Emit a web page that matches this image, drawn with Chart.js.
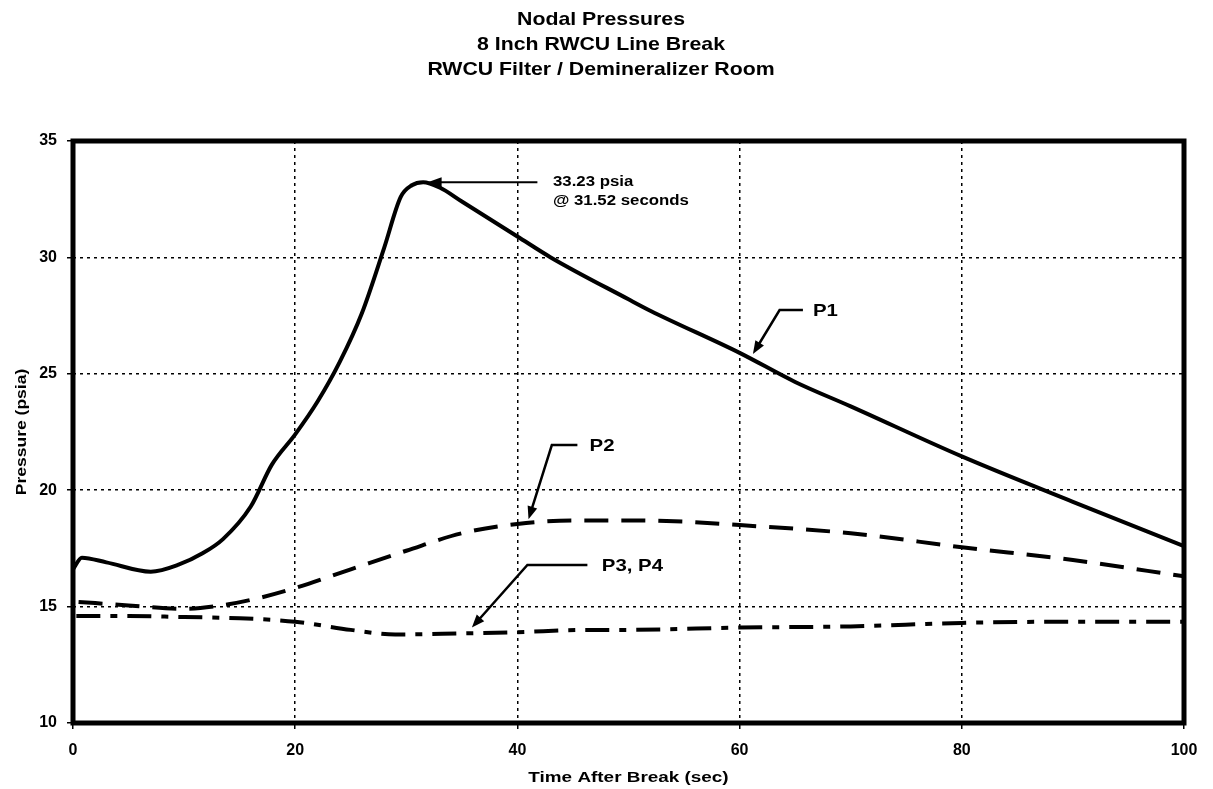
<!DOCTYPE html>
<html>
<head>
<meta charset="utf-8">
<title>Nodal Pressures</title>
<script src="https://cdn.jsdelivr.net/npm/chart.js@4.4.1/dist/chart.umd.min.js"></script>
<style>
  html, body { margin: 0; padding: 0; background: #fff; }
  #wrap { width: 1213px; height: 789px; }
</style>
</head>
<body>
<div id="wrap"><canvas id="pressureChart" width="1213" height="789"></canvas></div>
<script>
// Data (time in seconds, pressure in psia)
const titleLines = ['Nodal Pressures', '8 Inch RWCU Line Break', 'RWCU Filter / Demineralizer Room'];
const xTitle = 'Time After Break (sec)';
const yTitle = 'Pressure (psia)';

const timeP1 = [0, 0.8, 3, 7, 9.5, 11.7, 13.5, 16, 17.9, 20, 22, 24, 26, 28, 29.5, 30.5, 31.52, 33, 35, 40, 43, 50, 52, 60, 65, 70, 80, 90, 100];
const p1     = [16.6, 17.1, 16.9, 16.5, 16.8, 17.3, 17.9, 19.3, 21.1, 22.4, 23.8, 25.5, 27.6, 30.4, 32.6, 33.1, 33.23, 33.0, 32.4, 30.9, 30.0, 28.2, 27.7, 25.9, 24.65, 23.6, 21.45, 19.5, 17.6];

const timeP2 = [0.5, 5, 10, 14, 17, 20, 25, 30, 35, 40, 45, 50, 55, 60, 70, 80, 90, 100];
const p2     = [15.2, 15.05, 14.9, 15.1, 15.4, 15.8, 16.6, 17.4, 18.15, 18.55, 18.7, 18.7, 18.65, 18.5, 18.15, 17.55, 17.0, 16.3];

const timeP34 = [0.3, 5, 10, 15, 20, 25, 29, 35, 40, 46, 50, 60, 70, 80, 90, 100];
const p34     = [14.6, 14.6, 14.55, 14.5, 14.35, 14.0, 13.8, 13.85, 13.9, 14.0, 14.0, 14.1, 14.15, 14.3, 14.35, 14.35];

const peakTime = 31.52;
const peakValue = 33.23;

const xTicks = [0, 20, 40, 60, 80, 100];
const yTicks = [10, 15, 20, 25, 30, 35];

const FONT = '"Liberation Sans", Arial, sans-serif';

function pts(xs, ys) {
  return xs.map((x, i) => ({ x: x, y: ys[i] }));
}

function drawText(ctx, str, x, y, size, align, sx, rot) {
  ctx.save();
  ctx.translate(x, y);
  if (rot) ctx.rotate(rot);
  ctx.scale(sx, 1);
  ctx.font = 'bold ' + size + 'px ' + FONT;
  ctx.fillStyle = '#000';
  ctx.textAlign = align;
  ctx.textBaseline = 'middle';
  ctx.fillText(str, 0, 0);
  ctx.restore();
}

function arrowHead(ctx, fx, fy, tx, ty, len, half) {
  const a = Math.atan2(ty - fy, tx - fx);
  ctx.beginPath();
  ctx.moveTo(tx, ty);
  ctx.lineTo(tx - len * Math.cos(a) + half * Math.sin(a), ty - len * Math.sin(a) - half * Math.cos(a));
  ctx.lineTo(tx - len * Math.cos(a) - half * Math.sin(a), ty - len * Math.sin(a) + half * Math.cos(a));
  ctx.closePath();
  ctx.fill();
}

// leader: horizontal segment then diagonal to an arrow tip, label at the end
function leader(chart, hx1, hx2, hy, tipX, tipY, label, labelX) {
  const ctx = chart.ctx;
  const xs = chart.scales.x, ys = chart.scales.y;
  const ax = xs.getPixelForValue(hx1), bx = xs.getPixelForValue(hx2), py = ys.getPixelForValue(hy);
  const tx = xs.getPixelForValue(tipX), ty = ys.getPixelForValue(tipY);
  ctx.save();
  ctx.strokeStyle = '#000';
  ctx.fillStyle = '#000';
  ctx.lineWidth = 2.5;
  ctx.beginPath();
  ctx.moveTo(bx, py);
  ctx.lineTo(ax, py);
  ctx.lineTo(tx + (ax - tx) * 0.12, ty + (py - ty) * 0.12);
  ctx.stroke();
  arrowHead(ctx, ax, py, tx, ty, 13, 5);
  ctx.restore();
  drawText(ctx, label, xs.getPixelForValue(labelX), py + 1, 17, 'left', 1.2);
}

const decorations = {
  id: 'decorations',
  afterDraw(chart) {
    const ctx = chart.ctx;
    const a = chart.chartArea;
    const xs = chart.scales.x, ys = chart.scales.y;

    // frame
    ctx.save();
    ctx.strokeStyle = '#000';
    ctx.lineWidth = 5;
    ctx.strokeRect(a.left, a.top, a.right - a.left, a.bottom - a.top);
    ctx.restore();

    // titles
    titleLines.forEach((t, i) => drawText(ctx, t, 601, 20 + i * 25, 19, 'center', 1.12));
    drawText(ctx, xTitle, (a.left + a.right) / 2, 778, 14, 'center', 1.35);
    drawText(ctx, yTitle, 22, (a.top + a.bottom) / 2, 14, 'center', 1.25, -Math.PI / 2);

    // peak annotation
    const py = ys.getPixelForValue(peakValue);
    const tipX = xs.getPixelForValue(peakTime + 0.4);
    const startX = xs.getPixelForValue(41.8);
    ctx.save();
    ctx.strokeStyle = '#000';
    ctx.fillStyle = '#000';
    ctx.lineWidth = 2;
    ctx.beginPath();
    ctx.moveTo(startX, py);
    ctx.lineTo(tipX + 8, py);
    ctx.stroke();
    arrowHead(ctx, startX, py, tipX, py, 14, 5);
    ctx.restore();
    const tx = xs.getPixelForValue(43.2);
    drawText(ctx, peakValue.toFixed(2) + ' psia', tx, py, 14, 'left', 1.2);
    drawText(ctx, '@ ' + peakTime.toFixed(2) + ' seconds', tx, py + 19, 14, 'left', 1.2);

    // series labels
    leader(chart, 63.6, 65.7, 27.74, 61.2, 25.85, 'P1', 66.6);
    leader(chart, 43.1, 45.4, 21.94, 41.0, 18.75, 'P2', 46.5);
    leader(chart, 40.9, 46.3, 16.79, 35.9, 14.1, 'P3, P4', 47.6);
  }
};

const ctx = document.getElementById('pressureChart').getContext('2d');
const pressureChart = new Chart(ctx, {
  type: 'line',
  data: {
    datasets: [
      {
        label: 'P1',
        data: pts(timeP1, p1),
        borderColor: '#000',
        borderWidth: 4,
        pointRadius: 0,
        cubicInterpolationMode: 'monotone',
        fill: false
      },
      {
        label: 'P2',
        data: pts(timeP2, p2),
        borderColor: '#000',
        borderWidth: 4,
        borderDash: [24, 13],
        pointRadius: 0,
        cubicInterpolationMode: 'monotone',
        fill: false
      },
      {
        label: 'P3, P4',
        data: pts(timeP34, p34),
        borderColor: '#000',
        borderWidth: 4,
        borderDash: [24, 10, 7, 10],
        pointRadius: 0,
        cubicInterpolationMode: 'monotone',
        fill: false
      }
    ]
  },
  options: {
    responsive: false,
    animation: false,
    layout: { padding: { top: 141, right: 29, left: 0, bottom: 0 } },
    plugins: {
      legend: { display: false },
      title: { display: false },
      tooltip: { enabled: false }
    },
    scales: {
      x: {
        type: 'linear',
        min: 0,
        max: 100,
        afterBuildTicks: s => { s.ticks = xTicks.map(v => ({ value: v })); },
        afterFit: s => { s.height = 66; },
        ticks: {
          color: '#000',
          padding: 12,
          font: { family: FONT, size: 16, weight: 'bold' }
        },
        grid: {
          color: '#000',
          lineWidth: 1.5,
          tickLength: 6,
          tickWidth: 1.5
        },
        border: { display: false, dash: [3, 4] }
      },
      y: {
        min: 10,
        max: 35,
        afterBuildTicks: s => { s.ticks = yTicks.map(v => ({ value: v })); },
        afterFit: s => { s.width = 73; },
        ticks: {
          color: '#000',
          padding: 10,
          font: { family: FONT, size: 16, weight: 'bold' }
        },
        grid: {
          color: '#000',
          lineWidth: 1.5,
          tickLength: 6,
          tickWidth: 1.5
        },
        border: { display: false, dash: [3, 4] }
      }
    }
  },
  plugins: [decorations]
});
</script>
</body>
</html>
